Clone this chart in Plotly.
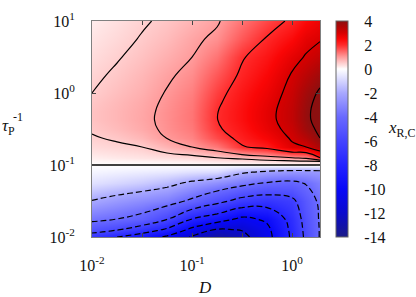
import plotly.graph_objects as go

# ---- data ----
D = [0.01, 0.0178, 0.0316, 0.0562, 0.1, 0.178, 0.316, 0.562, 1.0, 1.38, 1.9]
tau_inv = [0.01, 0.0126, 0.0178, 0.0316, 0.0562, 0.0794, 0.1, 0.112, 0.126, 0.178,
           0.237, 0.316, 0.422, 0.562, 0.75, 1.0, 1.78, 3.16, 5.62, 10.0]

# x_R,C values, one list per D column, ordered along tau_inv (bottom -> top)
col_0 = [-7.0, -5.2, -3.6, -2.05, -0.7, -0.25, 0, 0.08, 0.15, 0.35, 0.46, 0.55, 0.6, 0.6, 0.56, 0.5, 0.42, 0.33, 0.25, 0.17]
col_1 = [-8.0, -5.9, -4.0, -2.5, -0.95, -0.35, 0, 0.1, 0.2, 0.42, 0.56, 0.68, 0.73, 0.73, 0.7, 0.65, 0.56, 0.47, 0.38, 0.3]
col_2 = [-9.0, -7.0, -4.5, -2.9, -1.2, -0.45, 0, 0.12, 0.25, 0.5, 0.72, 0.85, 0.89, 0.88, 0.85, 0.8, 0.72, 0.62, 0.53, 0.45]
col_3 = [-10.3, -8.3, -5.9, -3.3, -1.6, -0.55, 0, 0.15, 0.3, 0.75, 1.01, 1.09, 1.11, 1.1, 1.07, 1.03, 0.93, 0.8, 0.68, 0.58]
col_4 = [-12.2, -10.5, -8.0, -4.3, -2.25, -0.75, 0, 0.18, 0.35, 1.0, 1.2, 1.3, 1.34, 1.33, 1.3, 1.25, 1.13, 1.0, 0.9, 0.75]
col_5 = [-13.3, -12.2, -9.0, -5.5, -2.8, -0.9, 0, 0.25, 0.5, 1.3, 1.72, 1.92, 1.99, 1.98, 1.91, 1.82, 1.6, 1.35, 1.1, 0.95]
col_6 = [-12.6, -11.9, -10.4, -6.6, -3.5, -1.8, 0, 0.3, 0.6, 1.95, 2.17, 2.3, 2.38, 2.38, 2.34, 2.28, 2.1, 1.95, 1.6, 1.35]
col_7 = [-10.6, -10.4, -9.7, -7.0, -4.1, -2.3, 0, 0.35, 0.8, 2.2, 2.55, 2.75, 2.82, 2.82, 2.76, 2.68, 2.5, 2.3, 2.05, 1.75]
col_8 = [-7.7, -7.6, -7.3, -6.4, -4.3, -2.6, 0, 0.4, 1.0, 2.9, 3.07, 3.2, 3.3, 3.3, 3.26, 3.2, 3.05, 2.8, 2.45, 2.1]
col_9 = [-5.6, -5.5, -5.3, -4.9, -3.9, -2.6, 0, 0.45, 1.1, 3.0, 3.45, 3.75, 3.85, 3.85, 3.79, 3.7, 3.4, 3.05, 2.8, 2.45]
col_10 = [-3.9, -3.9, -3.85, -3.7, -3.3, -2.5, 0, 0.45, 2.0, 3.6, 4.0, 4.15, 4.28, 4.3, 4.22, 4.1, 3.75, 3.3, 2.95, 2.7]

boundary = 0.1
pos_level_a = 0.5
pos_levels_b = (1, 4, 1)
neg_levels = (-12, -2, 2)
cbar_ticks = [-14, -12, -10, -8, -6, -4, -2, 0, 2, 4]
x_tickvals = [0.01, 0.1, 1.0]
x_ticktext = ["10<sup>-2</sup>", "10<sup>-1</sup>", "10<sup>0</sup>"]
x_minor = [0.0316, 0.316]
y_tickvals = [0.01, 0.1, 1.0, 10.0]
y_ticktext = ["10<sup>-2</sup>", "10<sup>-1</sup>", "10<sup>0</sup>", "10<sup>1</sup>"]

cols = [col_0, col_1, col_2, col_3, col_4, col_5, col_6, col_7, col_8, col_9, col_10]
z = [list(r) for r in zip(*cols)]

zmin, zmax = -14, 4
stops = [
    (-14, "rgb(28,28,135)"), (-13, "rgb(18,18,170)"), (-12, "rgb(10,10,205)"),
    (-10, "rgb(8,8,248)"), (-8, "rgb(35,35,255)"), (-6, "rgb(68,68,255)"),
    (-4, "rgb(105,105,255)"), (-2, "rgb(168,168,255)"), (-1, "rgb(212,212,255)"),
    (0, "rgb(255,255,255)"), (0.25, "rgb(255,228,228)"), (0.5, "rgb(255,205,205)"),
    (1, "rgb(255,155,155)"), (1.5, "rgb(255,98,98)"), (2, "rgb(255,42,42)"),
    (2.5, "rgb(250,6,6)"), (3, "rgb(215,0,0)"), (3.5, "rgb(178,6,6)"), (4, "rgb(140,16,16)"),
]
colorscale = [[(v - zmin) / (zmax - zmin), c] for v, c in stops]

FONT = "Liberation Serif"
W, H = 416, 297
L, T = 92, 10
PR, PB = 320, 237
R, B = W - PR, H - PB
pw, ph = PR - L, PB - T


def px_x(x):
    return (x - L) / pw


def px_y(y):
    return (PB - y) / ph


fig = go.Figure()
fig.add_trace(go.Heatmap(
    x=D, y=tau_inv, z=z, zsmooth="best", zmin=zmin, zmax=zmax,
    colorscale=colorscale, hoverinfo="skip",
    colorbar=dict(
        x=px_x(336), xanchor="left", xpad=0, ypad=0, y=0.5, yanchor="middle",
        len=1, lenmode="fraction", thickness=12,
        outlinewidth=1, outlinecolor="#666666",
        tickvals=cbar_ticks, ticktext=[str(v) for v in cbar_ticks],
        ticks="outside", ticklen=13, tickcolor="rgba(0,0,0,0)",
        ticklabeloverflow="allow",
        tickfont=dict(family=FONT, size=16, color="#111"),
    ),
))
fig.add_trace(go.Contour(
    x=D, y=tau_inv, z=z, showscale=False, hoverinfo="skip",
    contours=dict(coloring="none", start=pos_level_a, end=pos_level_a, size=0.5),
    line=dict(color="black", width=1.2, smoothing=1.3),
))
fig.add_trace(go.Contour(
    x=D, y=tau_inv, z=z, showscale=False, hoverinfo="skip",
    contours=dict(coloring="none", start=pos_levels_b[0], end=pos_levels_b[1], size=pos_levels_b[2]),
    line=dict(color="black", width=1.2, smoothing=1.3),
))
fig.add_trace(go.Contour(
    x=D, y=tau_inv, z=z, showscale=False, hoverinfo="skip",
    contours=dict(coloring="none", start=neg_levels[0], end=neg_levels[1], size=neg_levels[2]),
    line=dict(color="black", width=1.2, dash="6px,3px", smoothing=1.3),
))
fig.add_trace(go.Scatter(
    x=[D[0], D[-1]], y=[boundary, boundary], mode="lines",
    line=dict(color="black", width=1.5), hoverinfo="skip", showlegend=False,
))

axis_common = dict(
    type="log", showgrid=False, zeroline=False, showline=True, linecolor="#808080",
    linewidth=1, mirror="ticks", ticks="inside", ticklen=4, tickcolor="#444444",
    ticklabeloverflow="allow",
    tickfont=dict(family=FONT, size=16, color="#111"),
)
fig.update_xaxes(**axis_common, range=[-2, 0.2788], tickvals=x_tickvals,
                 ticktext=x_ticktext, ticklabelstandoff=14,
                 minor=dict(tickvals=x_minor, ticks="inside", ticklen=4, tickcolor="#444444"))
fig.update_yaxes(**axis_common, range=[-2.0001, 1.0001], tickvals=y_tickvals,
                 ticktext=y_ticktext, ticklabelstandoff=13)

fig.update_layout(
    width=W, height=H, margin=dict(l=L, r=R, t=T, b=B),
    paper_bgcolor="white", plot_bgcolor="white", showlegend=False,
    font=dict(family=FONT, color="#111"),
    annotations=[
        dict(text="<i>τ</i><sub>P</sub>", x=px_x(0), y=px_y(121), xref="paper", yref="paper",
             xanchor="left", yanchor="middle", showarrow=False, font=dict(family=FONT, size=17)),
        dict(text="-1", x=px_x(11), y=px_y(111), xref="paper", yref="paper",
             xanchor="left", yanchor="middle", showarrow=False, font=dict(family=FONT, size=12)),
        dict(text="<i>D</i>", x=px_x(205), y=px_y(290), xref="paper", yref="paper",
             xanchor="center", yanchor="middle", showarrow=False, font=dict(family=FONT, size=17)),
        dict(text="<i>x</i><sub>R,C</sub>", x=px_x(386), y=px_y(124), xref="paper", yref="paper",
             xanchor="left", yanchor="middle", showarrow=False, font=dict(family=FONT, size=17)),
    ],
)
fig.write_html("out.html", config={"displayModeBar": False},
               post_script="document.body.style.margin='0';")
